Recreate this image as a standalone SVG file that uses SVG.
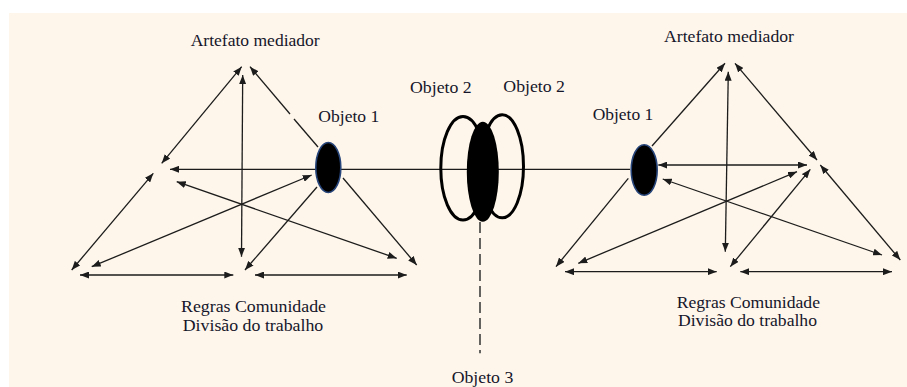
<svg xmlns="http://www.w3.org/2000/svg" width="907" height="387" viewBox="0 0 907 387">
<style>
.c{stroke:#1c1c1c;stroke-width:1.3;fill:none}
.b{marker-start:url(#ah);marker-end:url(#ah)}
.e{marker-end:url(#ah)}
.s{marker-start:url(#ah)}
.o1{fill:#000;stroke:#27457a;stroke-width:1.6}
.o2{fill:none;stroke:#000;stroke-width:3}
</style>
<defs>
<marker id="ah" markerUnits="userSpaceOnUse" markerWidth="9" markerHeight="7" refX="9" refY="3.5" orient="auto-start-reverse">
<path d="M0,0 L9,3.5 L0,7 z" fill="#1c1c1c"/>
</marker>
</defs>
<rect x="0" y="0" width="907" height="387" fill="#fff"/>
<rect x="9" y="13" width="898" height="374" fill="#fef6ea"/>
<g id="connectors">
<path class="c s" d="M170,169.3 L630,169.3"/>
<path class="c b" d="M241.7,66.7 L161.7,163.3"/>
<path class="c b" d="M242.7,75 L241.5,256.7"/>
<path class="c s" d="M250,66.7 L290,114"/>
<path class="c" d="M294,119 L318,147"/>
<path class="c b" d="M153.3,173.3 L71.7,270"/>
<path class="c b" d="M91.7,266.7 L311.7,175"/>
<path class="c b" d="M176.7,181.7 L396.7,258.3"/>
<path class="c e" d="M317,187 L245,270"/>
<path class="c e" d="M343,178 L416.7,265"/>
<path class="c b" d="M80,275 L233.3,275"/>
<path class="c b" d="M255,275 L406.7,275"/>
<path class="c e" d="M652,146 L725,63.3"/>
<path class="c b" d="M735,63.3 L817,160"/>
<path class="c b" d="M728.3,71.7 L725.3,251.7"/>
<path class="c b" d="M658.3,165 L807,165"/>
<path class="c b" d="M662.7,179 L882,255"/>
<path class="c e" d="M628.3,178.3 L556,266.7"/>
<path class="c b" d="M578.3,263.3 L797,171.7"/>
<path class="c b" d="M810.3,169.3 L730.3,266.7"/>
<path class="c b" d="M820.3,165 L900.3,260"/>
<path class="c b" d="M565,271.7 L716.7,271.7"/>
<path class="c b" d="M740.3,271.7 L892,271.7"/>
<path d="M480,222 L480,353.3" stroke="#333" stroke-width="1.5" stroke-dasharray="11 5" fill="none"/>
</g>
<g id="objeto1-left"><ellipse class="o1" cx="328.3" cy="167.5" rx="12.5" ry="25"/></g>
<g id="objeto1-right"><ellipse class="o1" cx="644.2" cy="170" rx="13" ry="25.2"/></g>
<g id="objeto2">
<ellipse class="o2" cx="463" cy="168.3" rx="22.2" ry="51.8"/>
<ellipse class="o2" cx="502.2" cy="166.3" rx="21.3" ry="51.5"/>
<ellipse cx="482.8" cy="171.7" rx="16" ry="50" fill="#000"/>
</g>
<g id="labels" font-family="Liberation Serif" font-size="17.5" fill="#15152a">
<text x="190.7" y="46" textLength="129" lengthAdjust="spacingAndGlyphs">Artefato mediador</text>
<text x="664" y="42" textLength="130" lengthAdjust="spacingAndGlyphs">Artefato mediador</text>
<text x="318.3" y="121.5" textLength="61" lengthAdjust="spacingAndGlyphs">Objeto 1</text>
<text x="592.7" y="120" textLength="60.6" lengthAdjust="spacingAndGlyphs">Objeto 1</text>
<text x="410" y="93.3" textLength="61.7" lengthAdjust="spacingAndGlyphs">Objeto 2</text>
<text x="503.3" y="91.7" textLength="61.7" lengthAdjust="spacingAndGlyphs">Objeto 2</text>
<text x="451.7" y="383" textLength="61.6" lengthAdjust="spacingAndGlyphs">Objeto 3</text>
<text x="181" y="312" textLength="145" lengthAdjust="spacingAndGlyphs">Regras Comunidade</text>
<text x="182.7" y="330.5" textLength="140.6" lengthAdjust="spacingAndGlyphs">Divisão do trabalho</text>
<text x="676.7" y="307.5" textLength="143.3" lengthAdjust="spacingAndGlyphs">Regras Comunidade</text>
<text x="678" y="326" textLength="139" lengthAdjust="spacingAndGlyphs">Divisão do trabalho</text>
</g>
</svg>
